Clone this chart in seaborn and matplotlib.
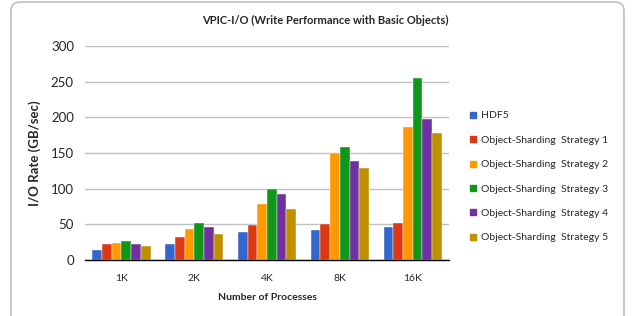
import matplotlib
matplotlib.use('Agg')
import matplotlib.pyplot as plt
from matplotlib.patches import FancyBboxPatch
from matplotlib.lines import Line2D
import pandas as pd
import seaborn as sns

processes = ['1K', '2K', '4K', '8K', '16K']
series = ['HDF5', 'Object-Sharding  Strategy 1', 'Object-Sharding  Strategy 2',
          'Object-Sharding  Strategy 3', 'Object-Sharding  Strategy 4',
          'Object-Sharding  Strategy 5']
hdf5 = [14, 22, 40, 42, 47]
strategy1 = [22, 32, 49, 50, 52]
strategy2 = [24, 43, 78, 150, 187]
strategy3 = [26, 52, 100, 159, 255]
strategy4 = [22, 47, 92, 139, 197]
strategy5 = [19, 37, 72, 129, 178]
colors = ['#3366CC', '#DC3912', '#FF9900', '#109618', '#7030A0', '#BF9000']

values = [hdf5, strategy1, strategy2, strategy3, strategy4, strategy5]
rows = []
for name, vals in zip(series, values):
    for p, v in zip(processes, vals):
        rows.append({'Processes': p, 'Series': name, 'Rate': v})
df = pd.DataFrame(rows)

sns.set_style('white')
plt.rcParams['font.family'] = ['Lato', 'DejaVu Sans']

fig = plt.figure(figsize=(6.32, 3.16), dpi=100)
ax = fig.add_axes([0.1345, 0.177, 0.576, 0.678])

sns.barplot(data=df, x='Processes', y='Rate', hue='Series', palette=colors,
            order=processes, hue_order=series, width=0.8, saturation=1,
            edgecolor='white', linewidth=0.3, ax=ax, legend=False)

ax.set_ylim(0, 300)
ax.set_yticks(range(0, 301, 50))
ax.yaxis.grid(True, color='#c0c0c0', linewidth=1)
ax.set_axisbelow(True)
for s in ['top', 'right', 'left']:
    ax.spines[s].set_visible(False)
ax.spines['bottom'].set_color('black')
ax.spines['bottom'].set_linewidth(1)
ax.set_xlim(-0.5, len(processes) - 0.5)
ax.set_xticks([i * 0.5 - 0.5 for i in range(2 * len(processes) + 1)], minor=True)
ax.tick_params(axis='x', which='minor', direction='inout', length=6, width=1, color='black')
ax.tick_params(axis='x', which='major', length=0, labelsize=7.5, pad=10)
ax.tick_params(axis='y', length=0, labelsize=9.5, pad=8)

ax.set_xlabel('Number of Processes', fontsize=7.5, fontweight='bold', labelpad=7)
ax.set_ylabel('I/O Rate (GB/sec)', fontsize=9.5, fontweight='bold', labelpad=7)
fig.text(0.515, 0.935, 'VPIC-I/O (Write Performance with Basic Objects)',
         ha='center', va='center', fontsize=8, fontweight='bold')

handles = [Line2D([0], [0], marker='s', linestyle='none', markersize=5,
                  markerfacecolor=c, markeredgecolor=c) for c in colors]
fig.legend(handles, series, loc='upper left', bbox_to_anchor=(0.735, 0.665),
           frameon=False, fontsize=7.5, handlelength=0.6, handletextpad=0.5,
           labelspacing=1.45, borderpad=0)

border = FancyBboxPatch((0.11, -0.2), 6.13, 3.34, boxstyle='round,pad=0,rounding_size=0.09',
                        transform=fig.dpi_scale_trans, fill=False, edgecolor='#bfbfbf',
                        linewidth=1.2)
fig.patches.append(border)

fig.savefig('out.png', dpi=100)
